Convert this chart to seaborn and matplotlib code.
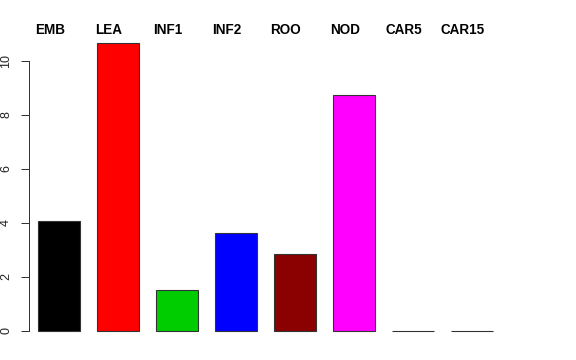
import matplotlib
matplotlib.use("Agg")
import matplotlib.pyplot as plt
import seaborn as sns
import pandas as pd

categories = ["EMB", "LEA", "INF1", "INF2", "ROO", "NOD", "CAR5", "CAR15"]
values = [4.07, 10.67, 1.52, 3.63, 2.85, 8.74, 0.0, 0.0]
colors = ["#000000", "#FF0000", "#00CD00", "#0000FF", "#8B0000", "#FF00FF", "#00FFFF", "#FFFF00"]
yticks = [0, 2, 4, 6, 8, 10]

sns.set_style("white")
plt.rcParams['font.family'] = ['Liberation Sans', 'DejaVu Sans']
plt.rcParams['text.color'] = 'black'
plt.rcParams['ytick.color'] = '#222222'

df = pd.DataFrame({"cat": categories, "val": values})

W, H = 576, 360
fig = plt.figure(figsize=(W / 72, H / 72), dpi=72)
ax = fig.add_axes([29 / W, (H - 345) / H, (560 - 29) / W, (345 - 20) / H])

sns.barplot(data=df, x="cat", y="val", hue="cat", palette=colors, legend=False,
            width=42 / 59, edgecolor="#333333", linewidth=1.1, saturation=1, ax=ax)

ax.set_xlim((29 - 59) / 59, (560 - 59) / 59)
ax.set_ylim((331 - 345) / 27, (331 - 20) / 27)

for i, c in enumerate(categories):
    ax.text(i - 0.153, (331 - 29.5) / 27, c, ha="center", va="center",
            fontsize=13.5, fontweight="bold", color="black", clip_on=False)

for s in ["top", "right", "bottom"]:
    ax.spines[s].set_visible(False)
ax.spines["left"].set_bounds(0, 10)
ax.spines["left"].set_color("#333333")
ax.spines["left"].set_linewidth(1.0)
ax.set_xticks([])
ax.set_yticks(yticks)
ax.set_yticklabels([str(t) for t in yticks], rotation=90, va="center", fontsize=12.5)
ax.tick_params(axis="y", length=8, width=1.0, color="#333333", labelcolor="#222222",
               pad=9, left=True)
ax.set_xlabel("")
ax.set_ylabel("")

fig.savefig("out.png", dpi=72)
